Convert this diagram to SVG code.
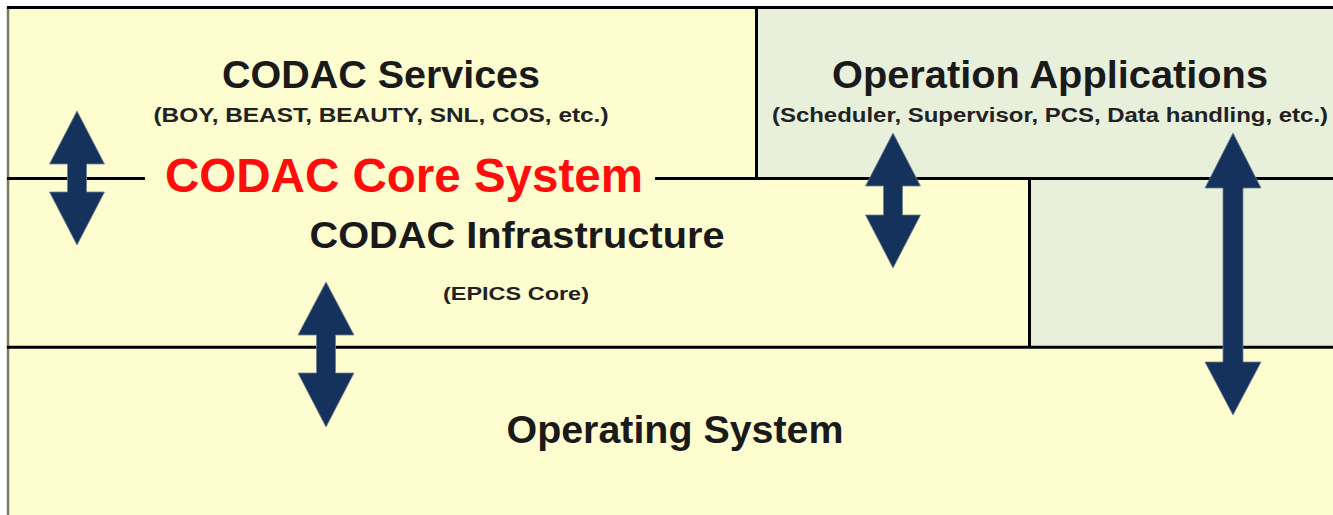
<svg xmlns="http://www.w3.org/2000/svg" width="1333" height="515" viewBox="0 0 1333 515">
<style>
.t{font-family:"Liberation Sans",Arial,sans-serif;font-weight:bold;fill:#1a1a1a;text-anchor:middle}
.big{font-size:39.5px}
.sub{font-size:20px;fill:#222}
.red{font-size:48px;fill:#ff0d0d}
.ln{stroke:#000;stroke-width:3;fill:none}
.arr{fill:#14325c;stroke:#6f7f8c;stroke-width:0.8;stroke-linejoin:miter}
</style>
<rect x="0" y="0" width="1333" height="515" fill="#fff"/>
<rect x="8" y="7" width="1325" height="508" fill="#fefdd0"/>
<g id="operation-applications">
<path d="M756.5 7.5 H1333 V347 H1029.5 V178.5 H756.5 Z" fill="#e8f0dc"/>
<text class="t big" x="1050" y="88" textLength="436" lengthAdjust="spacingAndGlyphs">Operation Applications</text>
<text class="t sub" x="1050" y="122" textLength="556" lengthAdjust="spacingAndGlyphs">(Scheduler, Supervisor, PCS, Data handling, etc.)</text>
</g>
<g id="frame">
<line x1="8" y1="6" x2="8" y2="515" stroke="#7b7a62" stroke-width="2.5"/>
<line class="ln" x1="7" y1="7.5" x2="1333" y2="7.5"/>
<line class="ln" x1="756.5" y1="7.5" x2="756.5" y2="178.5"/>
<line class="ln" x1="7" y1="178.5" x2="145" y2="178.5"/>
<line class="ln" x1="655" y1="178.5" x2="1333" y2="178.5"/>
<line class="ln" x1="1029.5" y1="178.5" x2="1029.5" y2="347.3"/>
<line class="ln" x1="7" y1="347.3" x2="1333" y2="347.3"/>
</g>
<g id="codac-services">
<text class="t big" x="381" y="88" textLength="318" lengthAdjust="spacingAndGlyphs">CODAC Services</text>
<text class="t sub" x="381" y="122" textLength="455" lengthAdjust="spacingAndGlyphs">(BOY, BEAST, BEAUTY, SNL, COS, etc.)</text>
</g>
<g id="codac-core-system">
<text class="t red" x="404" y="192" textLength="478" lengthAdjust="spacingAndGlyphs">CODAC Core System</text>
</g>
<g id="codac-infrastructure">
<text class="t big" x="517" y="248" style="font-size:36.5px" textLength="415" lengthAdjust="spacingAndGlyphs">CODAC Infrastructure</text>
<text class="t sub" x="516" y="300" style="font-size:18px" textLength="146" lengthAdjust="spacingAndGlyphs">(EPICS Core)</text>
</g>
<g id="operating-system">
<text class="t big" x="675" y="443" textLength="337" lengthAdjust="spacingAndGlyphs">Operating System</text>
</g>
<g id="connectors">
<path class="arr" d="M77 111 L104.5 164 L86.5 164 L86.5 192 L104.5 192 L77 245 L49.5 192 L67.5 192 L67.5 164 L49.5 164 Z"/>
<path class="arr" d="M893 133 L920.5 186 L902.5 186 L902.5 215 L920.5 215 L893 268 L865.5 215 L883.5 215 L883.5 186 L865.5 186 Z"/>
<path class="arr" d="M1233 133 L1261 188 L1243 188 L1243 362 L1261 362 L1233 415 L1205 362 L1223 362 L1223 188 L1205 188 Z"/>
<path class="arr" d="M326 282 L354 335 L335.5 335 L335.5 373 L354 373 L326 427 L298 373 L316.5 373 L316.5 335 L298 335 Z"/>
</g>
</svg>
